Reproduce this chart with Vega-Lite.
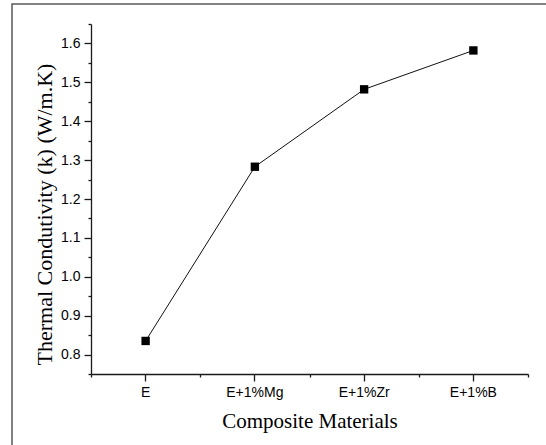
{
  "$schema": "https://vega.github.io/schema/vega-lite/v6.json",
  "width": 534,
  "height": 441,
  "autosize": {"type": "none"},
  "padding": {"left": 12, "top": 4, "right": 0, "bottom": 0},
  "background": "white",
  "view": {"stroke": "#5a5a5a", "strokeWidth": 1.5, "strokeDash": [534, 975, 445]},
  "config": {
    "view": {"stroke": "#5a5a5a", "strokeWidth": 1.5, "strokeDash": [534, 975, 445]},
    "style": {"cell": {"stroke": "#5a5a5a", "strokeWidth": 1.5, "strokeDash": [534, 975, 445]}},
    "axis": {"grid": false, "domainColor": "#1a1a1a", "tickColor": "#1a1a1a", "domainWidth": 1.3, "tickWidth": 1.3}
  },
  "data": {
    "values": [
      {"material": "E", "k": 0.835},
      {"material": "E+1%Mg", "k": 1.283},
      {"material": "E+1%Zr", "k": 1.482},
      {"material": "E+1%B", "k": 1.582}
    ]
  },
  "layer": [
    {
      "mark": {"type": "line", "color": "#111", "strokeWidth": 1},
      "encoding": {
        "x": {
          "field": "material", "type": "nominal", "sort": null,
          "scale": {"type": "band", "range": [79, 516], "paddingInner": 0, "paddingOuter": 0},
          "axis": {
            "title": "Composite Materials", "orient": "bottom", "offset": -71,
            "tickSize": 7, "labelFont": "Liberation Sans", "labelFontSize": 14, "labelColor": "#000",
            "labelPadding": 4, "labelAngle": 0,
            "titleFont": "Liberation Serif", "titleFontSize": 21, "titleFontWeight": "normal", "titleColor": "#000",
            "titlePadding": 11
          }
        },
        "y": {
          "field": "k", "type": "quantitative",
          "scale": {"domain": [0.75, 1.65], "range": [370, 20], "nice": false, "zero": false},
          "axis": {
            "title": "Thermal Condutivity (k) (W/m.K)", "orient": "left", "offset": -79,
            "values": [0.8, 0.9, 1.0, 1.1, 1.2, 1.3, 1.4, 1.5, 1.6], "format": ".1f",
            "tickSize": 7, "labelFont": "Liberation Sans", "labelFontSize": 14, "labelColor": "#000",
            "labelPadding": 4,
            "titleFont": "Liberation Serif", "titleFontSize": 22, "titleFontWeight": "normal", "titleColor": "#000",
            "titlePadding": 4, "titleY": 210
          }
        }
      }
    },
    {
      "mark": {"type": "point", "shape": "square", "filled": true, "color": "#000", "size": 70, "opacity": 1},
      "encoding": {
        "x": {
          "field": "material", "type": "nominal", "sort": null,
          "scale": {"type": "band", "range": [79, 516], "paddingInner": 0, "paddingOuter": 0},
          "axis": {"title": null, "orient": "bottom", "offset": -71, "labels": false, "domain": false, "tickBand": "extent", "tickSize": 3}
        },
        "y": {
          "field": "k", "type": "quantitative",
          "scale": {"domain": [0.75, 1.65], "range": [370, 20], "nice": false, "zero": false},
          "axis": {"title": null, "orient": "left", "offset": -79, "labels": false, "domain": false, "tickSize": 3,
            "values": [0.75, 0.85, 0.95, 1.05, 1.15, 1.25, 1.35, 1.45, 1.55, 1.65]}
        }
      }
    }
  ],
  "resolve": {"axis": {"x": "independent", "y": "independent"}}
}
